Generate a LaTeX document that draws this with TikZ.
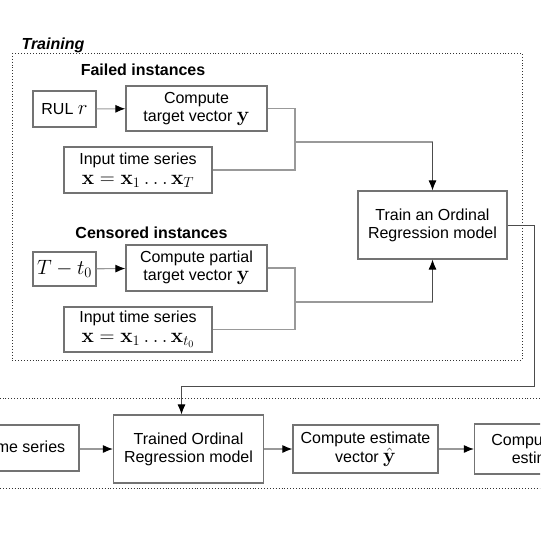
\documentclass[tikz,border=0pt]{standalone}
\usepackage{amsmath, amssymb}
\usepackage[no-math]{fontspec}
\setmainfont{Liberation Sans}
\usepackage{tikz}
\usetikzlibrary{arrows.meta}

% math a little larger than the text, as in the figure
\newcommand{\bigmath}[1]{{\fontsize{19.5}{18}\selectfont$#1$}}

\begin{document}
\begin{tikzpicture}[x=1pt,y=-1pt,
    every node/.style={font=\fontsize{16}{18}\selectfont},
    box/.style={draw=black!55, line width=1.2pt, align=center, inner sep=2pt},
    link/.style={draw=black!40, line width=1.1pt},
    darklink/.style={draw=black!70, line width=0.9pt},
    tip/.style={-{Latex[length=10pt,width=8pt,color=black]}},
    frame/.style={draw=black!80, line width=0.9pt, dotted}]
            \useasboundingbox (0,0) rectangle (540,540);
            \clip (0,0) rectangle (540,540);

            % training part
            \draw[frame] (12,53) rectangle (522,360);
            \node[anchor=base west, font=\fontsize{16}{18}\selectfont\bfseries\itshape] (trainlbl) at (18,50) {Training};
            \node[anchor=base, font=\fontsize{16}{18}\selectfont\bfseries] (failedlbl) at (143,76) {Failed instances};
            \node[anchor=base, font=\fontsize{16}{18}\selectfont\bfseries] (censlbl) at (151.5,238) {Censored instances};

            \node[box, minimum width=63pt, minimum height=36pt] (rul) at (64.5,109) {RUL \bigmath{r}};
            \node[box, minimum width=141pt, minimum height=45pt] (comp1) at (196.5,108.5) {Compute\\ target vector \bigmath{\mathbf{y}}};
            \node[box, minimum width=148pt, minimum height=46pt] (in1) at (138,170) {Input time series\\[2pt] \bigmath{\mathbf{x} = \mathbf{x}_1 \ldots \mathbf{x}_T}};

            \node[box, minimum width=63pt, minimum height=34pt] (tt) at (64.5,269) {\bigmath{T - t_0}};
            \node[box, minimum width=141pt, minimum height=46pt] (comp2) at (196.5,268) {Compute partial\\ target vector \bigmath{\mathbf{y}}};
            \node[box, minimum width=148pt, minimum height=45pt] (in2) at (138,329.5) {Input time series\\[2pt] \bigmath{\mathbf{x} = \mathbf{x}_1 \ldots \mathbf{x}_{t_0}}};

            \node[box, minimum width=149pt, minimum height=68pt] (train) at (432.5,225) {Train an Ordinal\\ Regression model};

            \coordinate (j1) at (295,142);
            \coordinate (j2) at (295,302);
            \coordinate (fb) at (534,386);

            \draw[link, tip] (rul) -- (comp1);
            \draw[link, tip] (tt) -- (comp2);
            \draw[link] (comp1.east) -| (j1) |- (in1.east);
            \draw[link] (comp2.east) -| (j2) |- (in2.east);
            \draw[link] (j1) -- (j1 -| train.north);
            \draw[link] (j2) -- (j2 -| train.south);
            \draw[darklink, tip] (j1 -| train.north) -- (train.north);
            \draw[darklink, tip] (j2 -| train.south) -- (train.south);

            % prediction part
            \draw[frame] (-20,398) rectangle (560,488);

            \node[box, minimum width=145pt, minimum height=46pt] (ts) at (6.5,448) {Input time series};
            \node[box, minimum width=150pt, minimum height=68pt] (trained) at (188.5,449) {Trained Ordinal\\ Regression model};
            \node[box, minimum width=145pt, minimum height=48pt] (est) at (365.5,449) {Compute estimate\\ vector \bigmath{\hat{\mathbf{y}}}};
            \node[box, minimum width=135pt, minimum height=50pt] (rulest) at (542,449) {Compute RUL\\ estimate};

            \draw[link, tip] (ts.east |- est) -- (trained.west |- est);
            \draw[link, tip] (trained) -- (est);
            \draw[link, tip] (est) -- (est -| rulest.west);

            \draw[darklink, tip] (train.east) -| (fb) -| ([xshift=-7pt]trained.north);
        \end{tikzpicture}
\end{document}
